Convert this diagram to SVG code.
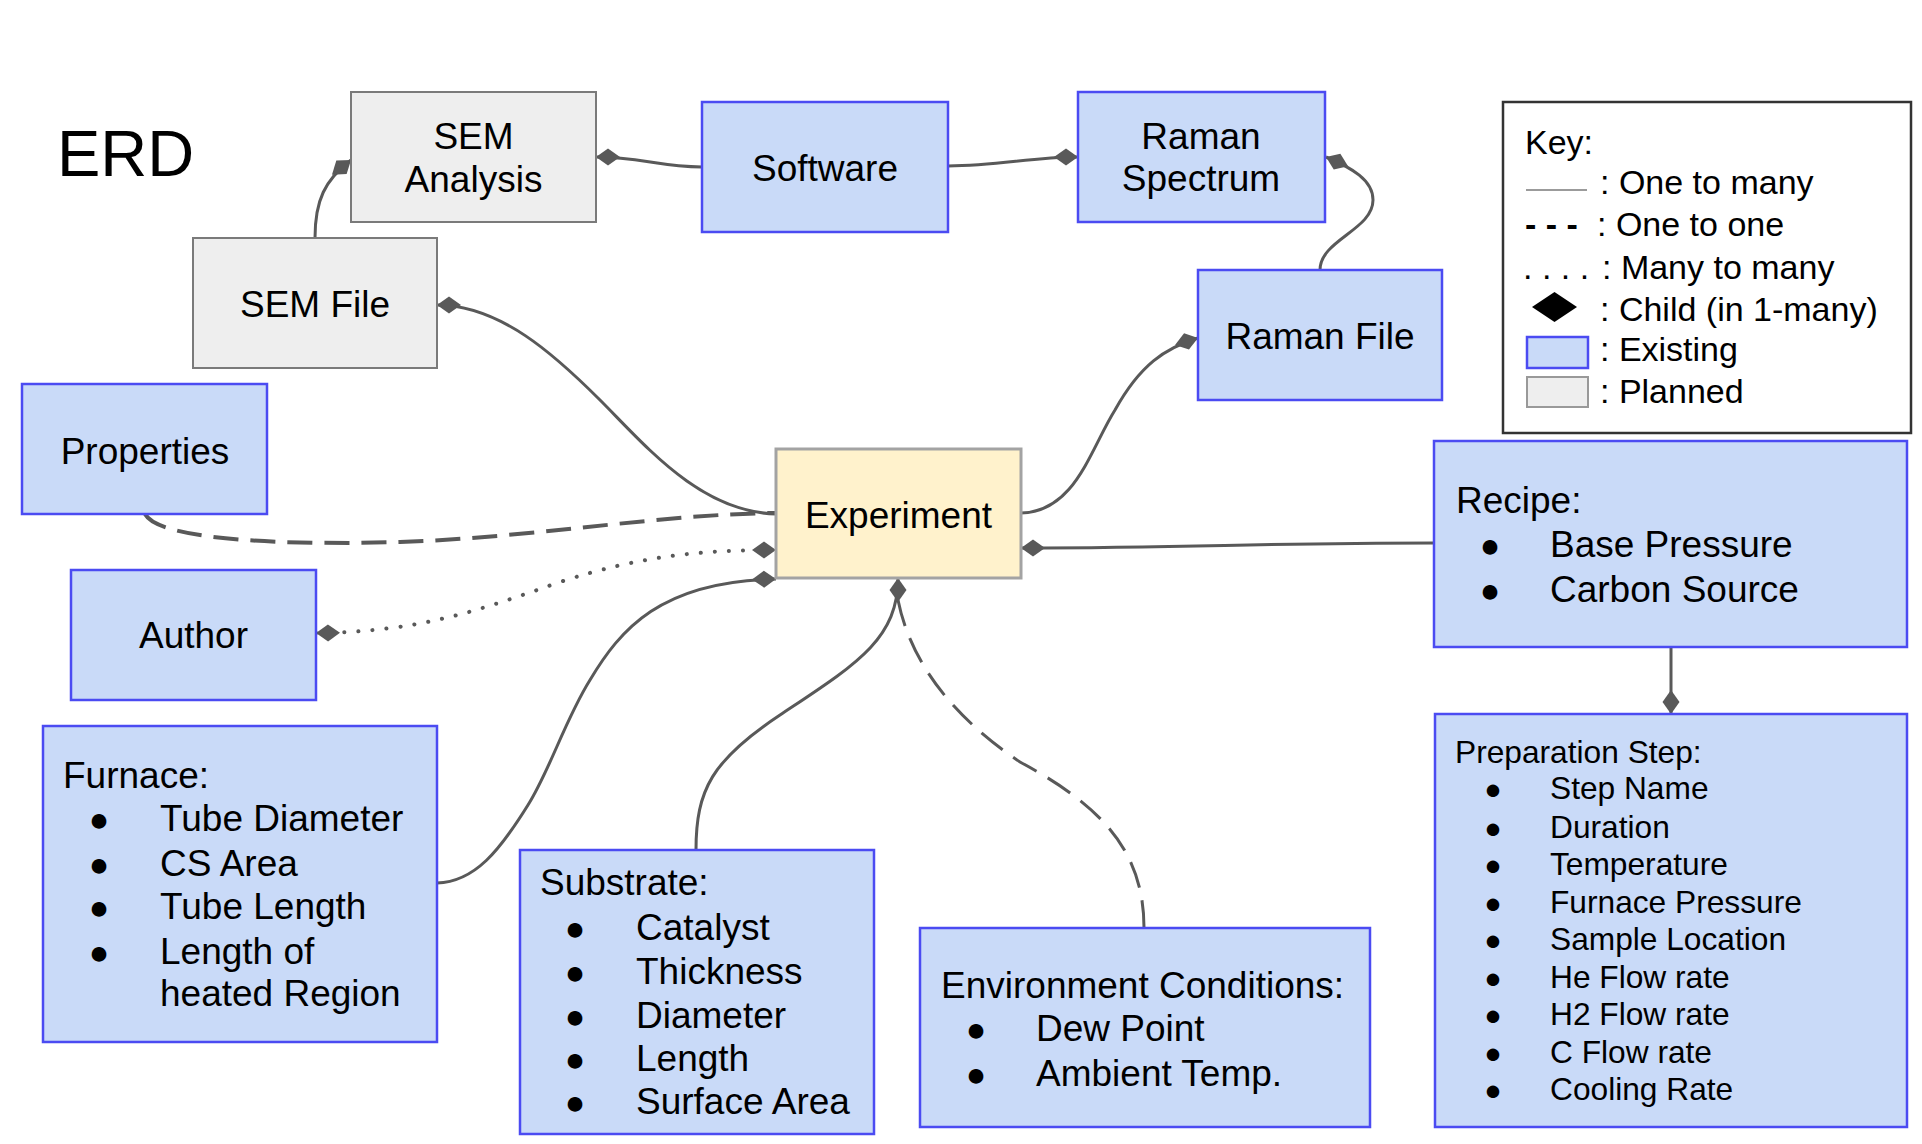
<svg xmlns="http://www.w3.org/2000/svg" width="1922" height="1144" viewBox="0 0 1922 1144">
<style>
text{font-family:"Liberation Sans",Arial,sans-serif;fill:#000}
.t{font-size:37px}
.c{text-anchor:middle}
.s{font-size:31.7px}
.k{font-size:34px}
.b{font-size:34px;text-anchor:middle}
.bs{font-size:29px;text-anchor:middle}
.blue{fill:#c9daf8;stroke:#4b4bf2;stroke-width:2.5}
.gray{fill:#eeeeee;stroke:#7a7a7a;stroke-width:2}
.exp{fill:#fff2cc;stroke:#a3a3a3;stroke-width:3}
.ln{fill:none;stroke:#595959;stroke-width:3}
.dash{stroke-dasharray:27 13}
.dot{stroke-dasharray:0.1 14;stroke-linecap:round;stroke-width:4}
</style>
<defs>
<marker id="dia" markerUnits="userSpaceOnUse" markerWidth="26" markerHeight="20" viewBox="0 -10 26 20" refX="24" refY="0" orient="auto-start-reverse">
<path d="M0,0 L12,-8.5 L24,0 L12,8.5 Z" fill="#595959"/>
</marker>
</defs>
<rect width="1922" height="1144" fill="#ffffff"/>
<text x="57" y="176" style="font-size:65px">ERD</text>

<g id="connectors">
<path class="ln" d="M315,238 C315,200 325,180 351,160" marker-end="url(#dia)"/>
<path class="ln" d="M702,167 C660,167 640,157 596,157" marker-end="url(#dia)"/>
<path class="ln" d="M948,166 C1000,166 1030,157 1078,157" marker-end="url(#dia)"/>
<path class="ln" d="M1320,270 C1320,240 1373,230 1373,200 C1373,180 1352,168 1326,157" marker-end="url(#dia)"/>
<path class="ln" d="M1021,513 C1075,512 1090,450 1115,410 C1140,365 1165,348 1198,338" marker-end="url(#dia)"/>
<path class="ln" d="M776,514 C700,512 645,445 600,400 C555,355 500,305 437,305" marker-end="url(#dia)"/>
<path class="ln" d="M1434,543 C1250,543 1200,548 1021,548" marker-end="url(#dia)"/>
<path class="ln" d="M1671,647 L1671,714" marker-end="url(#dia)"/>
<path class="ln" d="M437,883 C475,882 500,850 528,805 C550,770 565,720 590,680 C620,630 660,581 776,579" marker-end="url(#dia)"/>
<path class="ln" d="M696,850 C696,790 712,760 780,715 C855,665 898,640 898,578" marker-end="url(#dia)"/>
<path class="ln dash" style="stroke-width:4;stroke-dasharray:25 12" d="M145,514 C160,542 300,545 400,542 C530,538 660,514 776,513"/>
<path class="ln dash" d="M898,600 C910,660 950,715 1020,762 C1100,805 1144,850 1144,928"/>
<path class="ln dot" d="M316,633 C420,632 480,610 560,582 C640,556 700,550 776,550" marker-start="url(#dia)" marker-end="url(#dia)"/>
</g>

<g id="sem-analysis">
<rect class="gray" x="351" y="92" width="245" height="130"/>
<text class="t c" x="473.5" y="149">SEM</text>
<text class="t c" x="473.5" y="192">Analysis</text>
</g>
<g id="sem-file">
<rect class="gray" x="193" y="238" width="244" height="130"/>
<text class="t c" x="315" y="317">SEM File</text>
</g>
<g id="software">
<rect class="blue" x="702" y="102" width="246" height="130"/>
<text class="t c" x="825" y="181">Software</text>
</g>
<g id="raman-spectrum">
<rect class="blue" x="1078" y="92" width="247" height="130"/>
<text class="t c" x="1201" y="149">Raman</text>
<text class="t c" x="1201" y="191">Spectrum</text>
</g>
<g id="raman-file">
<rect class="blue" x="1198" y="270" width="244" height="130"/>
<text class="t c" x="1320" y="349">Raman File</text>
</g>
<g id="properties">
<rect class="blue" x="22" y="384" width="245" height="130"/>
<text class="t c" x="145" y="464">Properties</text>
</g>
<g id="experiment">
<rect class="exp" x="776" y="449" width="245" height="129"/>
<text class="t c" x="898.5" y="528">Experiment</text>
</g>
<g id="author">
<rect class="blue" x="71" y="570" width="245" height="130"/>
<text class="t c" x="193.5" y="648">Author</text>
</g>
<g id="furnace">
<rect class="blue" x="43" y="726" width="394" height="316"/>
<text class="t" x="63" y="788">Furnace:</text>
<text class="b" x="99" y="831">●</text><text class="t" x="160" y="831">Tube Diameter</text>
<text class="b" x="99" y="876">●</text><text class="t" x="160" y="876">CS Area</text>
<text class="b" x="99" y="919">●</text><text class="t" x="160" y="919">Tube Length</text>
<text class="b" x="99" y="964">●</text><text class="t" x="160" y="964">Length of</text>
<text class="t" x="160" y="1006">heated Region</text>
</g>
<g id="substrate">
<rect class="blue" x="520" y="850" width="354" height="284"/>
<text class="t" x="540" y="895">Substrate:</text>
<text class="b" x="575" y="940">●</text><text class="t" x="636" y="940">Catalyst</text>
<text class="b" x="575" y="984">●</text><text class="t" x="636" y="984">Thickness</text>
<text class="b" x="575" y="1028">●</text><text class="t" x="636" y="1028">Diameter</text>
<text class="b" x="575" y="1071">●</text><text class="t" x="636" y="1071">Length</text>
<text class="b" x="575" y="1114">●</text><text class="t" x="636" y="1114">Surface Area</text>
</g>
<g id="environment">
<rect class="blue" x="920" y="928" width="450" height="199"/>
<text class="t" x="941" y="998">Environment Conditions:</text>
<text class="b" x="976" y="1041">●</text><text class="t" x="1036" y="1041">Dew Point</text>
<text class="b" x="976" y="1086">●</text><text class="t" x="1036" y="1086">Ambient Temp.</text>
</g>
<g id="recipe">
<rect class="blue" x="1434" y="441" width="473" height="206"/>
<text class="t" x="1456" y="513">Recipe:</text>
<text class="b" x="1490" y="557">●</text><text class="t" x="1550" y="557">Base Pressure</text>
<text class="b" x="1490" y="602">●</text><text class="t" x="1550" y="602">Carbon Source</text>
</g>
<g id="preparation-step">
<rect class="blue" x="1435" y="714" width="472" height="413"/>
<text class="s" x="1455" y="763">Preparation Step:</text>
<text class="bs" x="1493" y="799">●</text><text class="s" x="1550" y="799">Step Name</text>
<text class="bs" x="1493" y="838">●</text><text class="s" x="1550" y="838">Duration</text>
<text class="bs" x="1493" y="875">●</text><text class="s" x="1550" y="875">Temperature</text>
<text class="bs" x="1493" y="913">●</text><text class="s" x="1550" y="913">Furnace Pressure</text>
<text class="bs" x="1493" y="950">●</text><text class="s" x="1550" y="950">Sample Location</text>
<text class="bs" x="1493" y="988">●</text><text class="s" x="1550" y="988">He Flow rate</text>
<text class="bs" x="1493" y="1025">●</text><text class="s" x="1550" y="1025">H2 Flow rate</text>
<text class="bs" x="1493" y="1063">●</text><text class="s" x="1550" y="1063">C Flow rate</text>
<text class="bs" x="1493" y="1100">●</text><text class="s" x="1550" y="1100">Cooling Rate</text>
</g>
<g id="key">
<rect x="1503" y="102" width="408" height="331" fill="#ffffff" stroke="#333333" stroke-width="2.5"/>
<text class="k" x="1525" y="154">Key:</text>
<line x1="1526" y1="190" x2="1587" y2="190" stroke="#7a7a7a" stroke-width="1.5"/>
<text class="k" x="1600" y="194">: One to many</text>
<text class="k" x="1525" y="236" style="font-weight:bold">- - -</text>
<text class="k" x="1597" y="236">: One to one</text>
<text class="k" x="1523" y="279">. . . .</text>
<text class="k" x="1602" y="279">: Many to many</text>
<polygon points="1532,307 1554.5,292 1577,307 1554.5,322" fill="#000000"/>
<text class="k" x="1600" y="321">: Child (in 1-many)</text>
<rect class="blue" x="1527" y="337" width="61" height="31"/>
<text class="k" x="1600" y="361">: Existing</text>
<rect class="gray" x="1527" y="377" width="61" height="30" style="stroke:#999999"/>
<text class="k" x="1600" y="403">: Planned</text>
</g>
</svg>
